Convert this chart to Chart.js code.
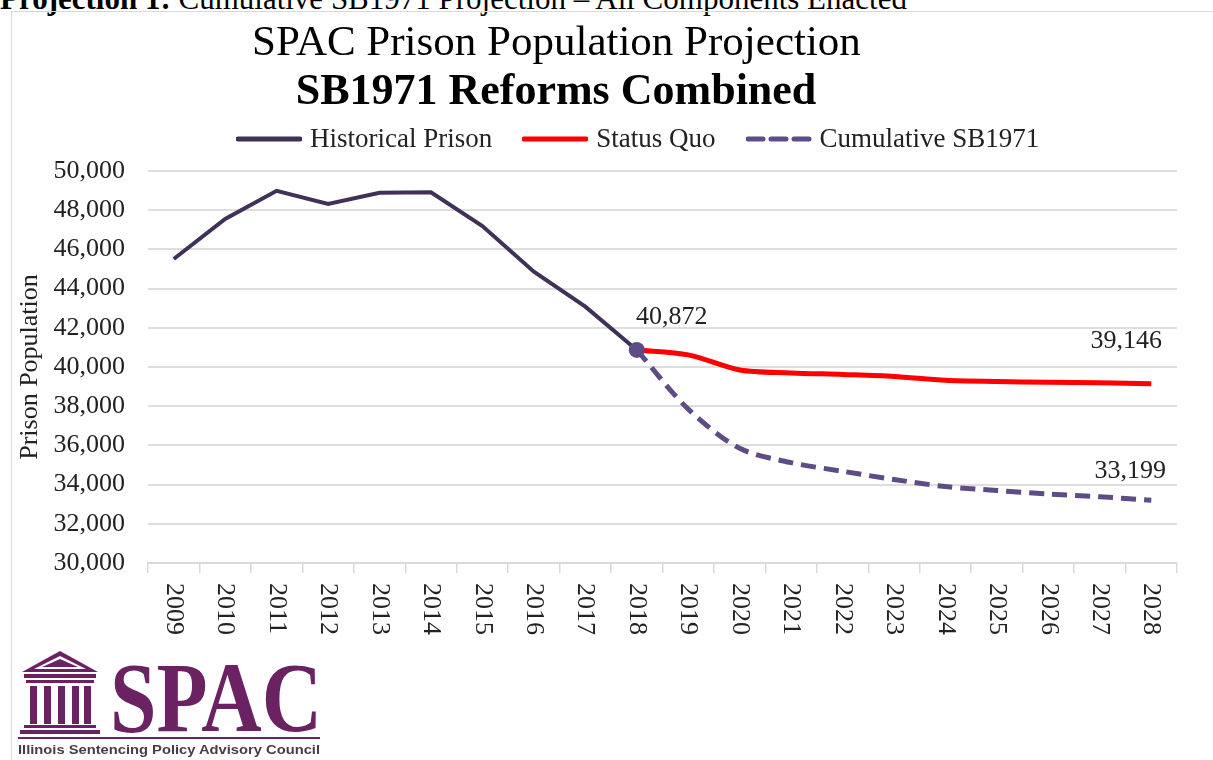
<!DOCTYPE html>
<html>
<head>
<meta charset="utf-8">
<script src="https://cdn.jsdelivr.net/npm/chart.js@4.4.1/dist/chart.umd.min.js"></script>
<style>
  body { margin: 0; background: #fff; width: 1213px; height: 760px; overflow: hidden; position: relative; font-family: "Liberation Serif", serif; }
  #frame { position: absolute; left: 11px; top: 11px; width: 1220px; height: 780px; border: 1.5px solid #d9d9d9; }
  #caption { position: absolute; left: 0px; top: -19px; font-size: 31px; color: #000; white-space: nowrap; }
  #wrap { position: absolute; left: 0; top: 0; width: 1213px; height: 760px; }
  .title { position: absolute; white-space: nowrap; color: #000; text-align: center; }
  #t1 { left: 252px; top: 16px; width: 608px; font-size: 43px; }
  #t2 { left: 256px; top: 64px; width: 600px; font-size: 44px; font-weight: bold; }
  #legend { position: absolute; left: 236px; top: 123px; font-size: 27px; color: #222; white-space: nowrap; display: flex; align-items: center; }
  #legend .item { display: flex; align-items: center; margin-right: 30px; }
  #legend svg { margin-right: 8px; }
  #logo { position: absolute; left: 16px; top: 646px; }
</style>
</head>
<body>
<div id="caption"><b>Projection 1:</b> Cumulative SB1971 Projection – All Components Enacted</div>
<div id="frame"></div>
<div id="wrap"><canvas id="chart" width="1213" height="760"></canvas></div>
<div class="title" id="t1">SPAC Prison Population Projection</div>
<div class="title" id="t2">SB1971 Reforms Combined</div>
<div id="legend"></div>
<svg id="logo" width="310" height="112" viewBox="0 0 310 112">
  <g fill="#6b2262">
    <polygon points="6,26 44,5 82,26"/>
    <polygon points="18,23 44,10 70,23" fill="#fff"/>
    <polygon points="26,21 44,13 62,21"/>
    <rect x="8" y="28" width="72" height="4"/>
    <rect x="10" y="34" width="68" height="3"/>
    <rect x="14" y="40" width="7" height="38"/>
    <rect x="28" y="40" width="7" height="38"/>
    <rect x="42" y="40" width="7" height="38"/>
    <rect x="56" y="40" width="7" height="38"/>
    <rect x="68" y="40" width="7" height="38"/>
    <rect x="8" y="79" width="72" height="3"/>
    <rect x="4" y="84" width="80" height="4"/>
    <text x="94" y="85" font-family="Liberation Serif" font-weight="bold" font-size="100" textLength="212" lengthAdjust="spacingAndGlyphs">SPAC</text>
    <rect x="2" y="91" width="302" height="2"/>
  </g>
  <text x="2" y="108" font-family="Liberation Sans" font-weight="bold" font-size="13" fill="#4a3a4c" textLength="302" lengthAdjust="spacingAndGlyphs">Illinois Sentencing Policy Advisory Council</text>
</svg>
<script>
const years = ["2009", "2010", "2011", "2012", "2013", "2014", "2015", "2016", "2017", "2018",
  "2019", "2020", "2021", "2022", "2023", "2024", "2025", "2026", "2027", "2028"];
const historicalPrison = [45510, 47550, 48990, 48320, 48890, 48910, 47190, 44860, 43080, 40872,
  null, null, null, null, null, null, null, null, null, null];
const statusQuo = [null, null, null, null, null, null, null, null, null, 40872,
  40620, 39850, 39700, 39620, 39520, 39320, 39260, 39220, 39200, 39146];
const cumulativeSB1971 = [null, null, null, null, null, null, null, null, null, 40872,
  37850, 35850, 35120, 34680, 34260, 33900, 33700, 33520, 33380, 33199];
const seriesNames = ["Historical Prison", "Status Quo", "Cumulative SB1971"];
const yTitle = "Prison Population";

const colHist = "#3f3158";
const colRed = "#ff0000";
const colCum = "#5e4c86";
const tickFont = { family: "Liberation Serif", size: 26 };

// legend (html)
const legend = document.getElementById("legend");
const legendDefs = [
  { color: colHist, dash: "" },
  { color: colRed, dash: "" },
  { color: colCum, dash: "15 8" },
];
legendDefs.forEach((d, i) => {
  const item = document.createElement("div");
  item.className = "item";
  item.innerHTML = `<svg width="66" height="8"><line x1="2" y1="4" x2="64" y2="4" stroke="${d.color}" stroke-width="5" stroke-linecap="round" ${d.dash ? `stroke-dasharray="${d.dash}"` : ""}/></svg><span>${seriesNames[i]}</span>`;
  legend.appendChild(item);
});

// year labels drawn rotated clockwise, plus the three value labels
const extraText = {
  id: "extraText",
  afterDraw(chart) {
    const { ctx, scales } = chart;
    const x = scales.x, y = scales.y;
    ctx.save();
    ctx.fillStyle = "#222";
    ctx.font = "26px 'Liberation Serif'";
    ctx.textAlign = "left";
    ctx.textBaseline = "middle";
    years.forEach((lab, i) => {
      ctx.save();
      ctx.translate(x.getPixelForValue(i), 583);
      ctx.rotate(Math.PI / 2);
      ctx.fillText(lab, 0, 0);
      ctx.restore();
    });
    ctx.textAlign = "center";
    const fmt = (v) => v.toLocaleString("en-US");
    ctx.fillText(fmt(historicalPrison[9]), x.getPixelForValue(9) + 35, y.getPixelForValue(historicalPrison[9]) - 33);
    ctx.fillText(fmt(statusQuo[19]), x.getPixelForValue(19) - 25, y.getPixelForValue(statusQuo[19]) - 43);
    ctx.fillText(fmt(cumulativeSB1971[19]), x.getPixelForValue(19) - 21, y.getPixelForValue(cumulativeSB1971[19]) - 29);
    ctx.restore();
  },
};

new Chart(document.getElementById("chart").getContext("2d"), {
  type: "line",
  data: {
    labels: years,
    datasets: [
      {
        label: seriesNames[0],
        data: historicalPrison,
        borderColor: colHist,
        backgroundColor: colCum,
        borderWidth: 4,
        pointRadius: years.map((_, i) => (i === 9 ? 8 : 0)),
        pointBackgroundColor: colCum,
        pointBorderWidth: 0,
        tension: 0,
      },
      {
        label: seriesNames[1],
        data: statusQuo,
        borderColor: colRed,
        borderWidth: 5,
        pointRadius: 0,
        tension: 0.3,
      },
      {
        label: seriesNames[2],
        data: cumulativeSB1971,
        borderColor: colCum,
        borderWidth: 5,
        borderDash: [15, 8],
        pointRadius: 0,
        tension: 0.3,
      },
    ],
  },
  options: {
    responsive: false,
    animation: false,
    layout: { padding: { left: 13, right: 36, top: 171, bottom: 0 } },
    plugins: { legend: { display: false }, title: { display: false }, tooltip: { enabled: false } },
    scales: {
      x: {
        offset: true,
        afterFit: (s) => { s.height = 197; },
        grid: { offset: true, drawOnChartArea: false, drawTicks: true, tickLength: 10, color: "#d9d9d9", lineWidth: 1.5 },
        border: { display: true, color: "#d9d9d9", width: 2 },
        ticks: { display: false },
      },
      y: {
        min: 30000,
        max: 50000,
        afterFit: (s) => { s.width = 135; },
        grid: { color: "#dedede", lineWidth: 2, drawTicks: false },
        border: { display: false },
        ticks: {
          stepSize: 2000,
          padding: 23,
          color: "#222",
          font: tickFont,
          callback: (v) => v.toLocaleString("en-US"),
        },
        title: { display: true, text: yTitle, color: "#222", font: tickFont, padding: 2 },
      },
    },
  },
  plugins: [extraText],
});
</script>
</body>
</html>
